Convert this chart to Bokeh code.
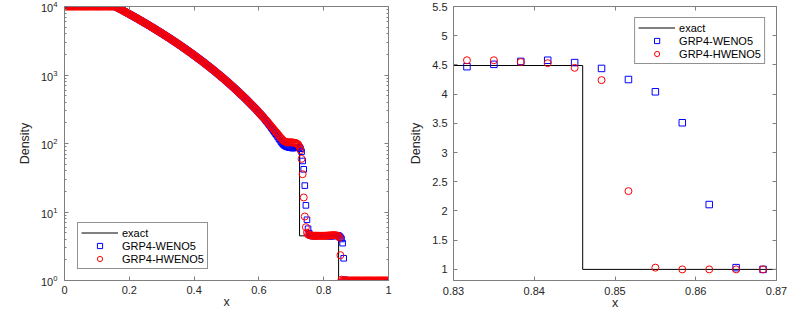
import numpy as np
from bokeh.plotting import figure
from bokeh.layouts import row
from bokeh.models import (FixedTicker, NumeralTickFormatter, LinearAxis, LogAxis,
                          Legend, LegendItem, CustomJSTickFormatter)
from bokeh.embed import file_html
from bokeh.resources import INLINE

# ---------------- data ----------------
N_CELLS = 300  # cell centres (i+0.5)/300

# density in cells 0..184 (both schemes agree here)
rho_common = [
    1e4, 1e4, 1e4, 1e4, 1e4, 1e4, 1e4, 1e4, 1e4, 1e4,
    1e4, 1e4, 1e4, 1e4, 1e4, 1e4, 1e4, 1e4, 1e4, 1e4,
    1e4, 1e4, 1e4, 1e4, 1e4, 1e4, 1e4, 1e4, 1e4, 1e4,
    1e4, 1e4, 1e4, 1e4, 1e4, 1e4, 1e4, 1e4, 1e4, 1e4,
    1e4, 1e4, 1e4, 1e4, 9998, 9990, 9965, 9905, 9731, 9542,
    9357, 9176, 8998, 8824, 8653, 8485, 8321, 8160, 7996, 7835,
    7677, 7522, 7371, 7222, 7077, 6934, 6794, 6657, 6517, 6380,
    6246, 6115, 5987, 5861, 5738, 5617, 5499, 5384, 5266, 5150,
    5037, 4927, 4819, 4713, 4610, 4509, 4410, 4313, 4214, 4118,
    4023, 3931, 3841, 3753, 3667, 3583, 3501, 3420, 3338, 3258,
    3180, 3103, 3029, 2956, 2885, 2816, 2748, 2682, 2614, 2548,
    2484, 2421, 2360, 2300, 2242, 2186, 2131, 2077, 2022, 1968,
    1916, 1865, 1815, 1767, 1720, 1674, 1630, 1586, 1541, 1498,
    1456, 1415, 1375, 1337, 1299, 1263, 1227, 1193, 1158, 1123,
    1090, 1057, 1026, 995, 966, 937, 909, 882, 854, 827,
    801, 776, 751, 727, 704, 682, 660, 639, 617, 597,
    577, 557, 538, 520, 503, 486, 469, 454, 437, 421,
    406, 392, 377, 364, 351, 338, 326, 314, 302, 290,
    278, 268, 257, 247, 238,
]

# GRP4-WENO5, cells 185..299
rho_weno_tail = [
    226, 216, 207, 197, 188,
    179, 170, 162, 154, 146, 139, 132, 125, 118, 112,
    106, 101, 97, 94, 92, 90, 89, 88, 87, 87,
    86, 86, 86, 87, 87, 88, 88, 87, 84, 76,
    55.6, 42, 24.3, 12.5, 7.7, 5.7, 4.9, 4.6, 4.5, 4.48,
    4.47, 4.47, 4.48, 4.49, 4.5, 4.5, 4.5, 4.5, 4.5, 4.5,
    4.5, 4.5, 4.49, 4.48, 4.47, 4.46, 4.46, 4.46, 4.46, 4.47,
    4.51, 4.56, 4.58, 4.54, 4.44, 4.25, 4.04, 3.51, 2.11, 1.03,
    1, 1, 1, 1, 1, 1, 1, 1, 1, 1,
    1, 1, 1, 1, 1, 1, 1, 1, 1, 1,
    1, 1, 1, 1, 1, 1, 1, 1, 1, 1,
    1, 1, 1, 1, 1, 1, 1, 1, 1, 1,
]

# GRP4-HWENO5, cells 185..299
rho_hweno_tail = [
    228, 219, 211, 202, 193,
    185, 177, 170, 163, 156, 149, 143, 137, 131, 125,
    120, 115, 111, 108, 106, 105, 104, 104, 104, 104,
    104, 103, 103, 102, 101, 99, 96, 90, 80, 59.6,
    35.6, 16.3, 8.6, 6.0, 5.0, 4.7, 4.6, 4.55, 4.53, 4.52,
    4.51, 4.5, 4.5, 4.5, 4.5, 4.5, 4.5, 4.5, 4.5, 4.5,
    4.5, 4.5, 4.51, 4.52, 4.53, 4.55, 4.56, 4.57, 4.58, 4.58,
    4.58, 4.55, 4.53, 4.45, 4.24, 2.34, 1.03, 1, 1, 1,
    1, 1, 1, 1, 1, 1, 1, 1, 1, 1,
    1, 1, 1, 1, 1, 1, 1, 1, 1, 1,
    1, 1, 1, 1, 1, 1, 1, 1, 1, 1,
    1, 1, 1, 1, 1, 1, 1, 1, 1, 1,
]

# exact solution polyline
exact_x = [0.0, 0.157, 0.17, 0.19167, 0.225, 0.25833, 0.29167, 0.325, 0.35833,
           0.39167, 0.425, 0.45833, 0.49167, 0.525, 0.55833, 0.59167, 0.625,
           0.65833, 0.677, 0.7255, 0.7255, 0.846, 0.846, 1.0]
exact_rho = [10000, 10000, 9275, 8160, 6657, 5384, 4313, 3420, 2682, 2077, 1586,
             1193, 882, 639, 454, 314, 211, 137, 105, 105, 4.49, 4.49, 1.0, 1.0]

left_xticks = [0, 0.2, 0.4, 0.6, 0.8, 1.0]
left_yticks = [1, 10, 100, 1000, 10000]
right_xticks = [0.83, 0.84, 0.85, 0.86, 0.87]
right_yticks = [1, 1.5, 2, 2.5, 3, 3.5, 4, 4.5, 5, 5.5]

series_names = ["exact", "GRP4-WENO5", "GRP4-HWENO5"]

rho_weno = rho_common + rho_weno_tail
rho_hweno = rho_common + rho_hweno_tail
x_cells = (np.arange(len(rho_weno)) + 0.5) / N_CELLS
x_cells_h = (np.arange(len(rho_hweno)) + 0.5) / N_CELLS

# ---------------- styling ----------------
FONT = "Liberation Sans"
AXC = "#7f7f7f"
TXT = "#262626"


def style_axis(ax, standoff=6):
    ax.axis_line_color = AXC
    ax.axis_line_width = 1
    ax.major_tick_line_color = AXC
    ax.minor_tick_line_color = AXC
    ax.major_tick_in = 4
    ax.major_tick_out = 0
    ax.minor_tick_in = 2
    ax.minor_tick_out = 0
    ax.major_label_text_font = FONT
    ax.major_label_text_font_size = "11px"
    ax.major_label_text_color = TXT
    ax.major_label_standoff = standoff
    ax.axis_label_text_font = FONT
    ax.axis_label_text_font_size = "12.5px"
    ax.axis_label_text_font_style = "normal"
    ax.axis_label_text_color = TXT
    ax.axis_label_standoff = 6


def add_mirror(p, xticks, yticks, yminor, log_y):
    top = LinearAxis(ticker=FixedTicker(ticks=xticks),
                     formatter=CustomJSTickFormatter(code="return ''"))
    yt = FixedTicker(ticks=yticks, minor_ticks=yminor)
    if log_y:
        right = LogAxis(ticker=yt, formatter=CustomJSTickFormatter(code="return ''"))
    else:
        right = LinearAxis(ticker=yt, formatter=CustomJSTickFormatter(code="return ''"))
    for ax in (top, right):
        style_axis(ax, standoff=0)
        ax.major_label_text_font_size = "0px"
    p.add_layout(top, "above")
    p.add_layout(right, "right")


def draw(p, square_size):
    r0 = p.line(exact_x, exact_rho, line_color="black", line_width=1)
    r1 = p.scatter(x_cells, rho_weno, marker="square", size=square_size,
                   line_color="#0000ff", fill_color=None, line_width=1)
    r2 = p.scatter(x_cells_h, rho_hweno, marker="circle", size=7,
                   line_color="#ff0000", fill_color=None, line_width=1)
    return [r0, r1, r2]


def make_legend(renderers, location, margin):
    items = [LegendItem(label=n, renderers=[r]) for n, r in zip(series_names, renderers)]
    return Legend(items=items, location=location, margin=margin,
                  border_line_color=TXT, border_line_width=1,
                  background_fill_color="white", background_fill_alpha=1,
                  padding=3, spacing=0, glyph_width=37, glyph_height=13,
                  label_height=13, label_standoff=4,
                  label_text_font=FONT, label_text_font_size="11px",
                  label_text_color="black")


H = 312

# ---------------- left panel ----------------
p1 = figure(width=400, height=H, x_range=(0, 1), y_range=(1, 1e4),
            y_axis_type="log", output_backend="svg", toolbar_location=None,
            min_border_left=64, min_border_right=12, min_border_top=6,
            min_border_bottom=31)
p1.grid.visible = False
p1.outline_line_color = AXC
p1.background_fill_color = "white"
p1.border_fill_color = "white"
log_minor = [k * 10 ** e for e in range(4) for k in range(2, 10)]
p1.xaxis[0].ticker = FixedTicker(ticks=left_xticks)
p1.xaxis[0].formatter = NumeralTickFormatter(format="0.[0]")
p1.yaxis[0].ticker = FixedTicker(ticks=left_yticks, minor_ticks=log_minor)
p1.yaxis[0].axis_label = "Density"
p1.xaxis[0].axis_label = "x"
style_axis(p1.xaxis[0], standoff=5)
style_axis(p1.yaxis[0], standoff=7)
p1.xaxis[0].axis_label_standoff = -2
add_mirror(p1, left_xticks, left_yticks, log_minor, True)
rs1 = draw(p1, 5.6)
p1.add_layout(make_legend(rs1, (13, 11), 0))

# ---------------- right panel ----------------
p2 = figure(width=405, height=H, x_range=(0.83, 0.87), y_range=(0.81, 5.5),
            output_backend="svg", toolbar_location=None,
            min_border_left=53, min_border_right=29, min_border_top=6,
            min_border_bottom=31)
p2.grid.visible = False
p2.outline_line_color = AXC
p2.background_fill_color = "white"
p2.border_fill_color = "white"
p2.xaxis[0].ticker = FixedTicker(ticks=right_xticks)
p2.xaxis[0].formatter = NumeralTickFormatter(format="0.[00]")
p2.yaxis[0].ticker = FixedTicker(ticks=right_yticks)
p2.yaxis[0].formatter = NumeralTickFormatter(format="0.[0]")
p2.yaxis[0].axis_label = "Density"
p2.xaxis[0].axis_label = "x"
style_axis(p2.xaxis[0], standoff=6)
style_axis(p2.yaxis[0], standoff=6)
p2.xaxis[0].axis_label_standoff = -2
add_mirror(p2, right_xticks, right_yticks, [], False)
rs2 = draw(p2, 6.5)
p2.add_layout(make_legend(rs2, "top_right", 11))

layout = row(p1, p2)
open("out.html", "w").write(file_html(layout, INLINE))
